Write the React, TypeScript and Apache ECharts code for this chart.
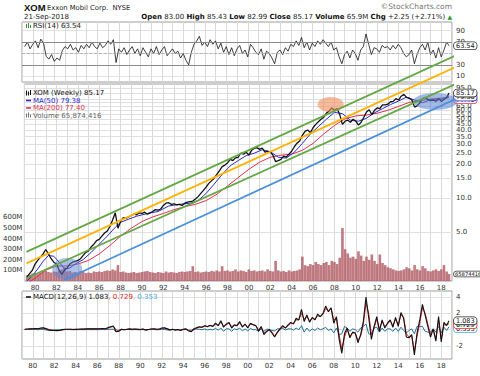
import React, { useEffect, useRef } from 'react';
import * as echarts from 'echarts';

const FONT = '"DejaVu Sans", Verdana, sans-serif';
const FIRST_Q = 1979.25;
const LAST_DATE = 2018.72;

const priceGridValues = [5, 10, 15, 20, 25, 30, 35, 40, 45, 50, 55, 60, 65, 70, 75, 85, 95];
const priceTickLabels = [5, 10, 15, 20, 25, 30, 35, 40, 45, 50, 55, 60, 65, 95];
const volumeTickLabels = [100, 200, 300, 400, 500, 600];
const rsiGridValues = [10, 30, 50, 70, 90];
const rsiTickLabels = [10, 30, 70, 90];
const macdGridValues = [-2, 0, 2, 4];
const macdTickLabels = [-2, 2, 4];

// quarterly closes 1979Q2 .. 2018-09
const priceClose = [
  2.0, 2.15, 2.3,
  2.6, 2.8, 3.0, 3.2,
  3.5, 3.2, 2.9, 2.7,
  2.6, 2.3, 2.1, 2.3,
  2.4, 2.6, 2.7, 2.75,
  2.8, 2.9, 3.1, 3.3,
  3.4, 3.7, 3.9, 4.2,
  4.3, 4.6, 4.9, 5.1,
  5.6, 6.4, 7.4, 5.4,
  6.2, 6.7, 6.6, 6.8,
  7.0, 7.2, 7.1, 7.4,
  7.3, 7.5, 7.2, 7.4,
  7.6, 7.9, 7.8, 8.0,
  8.6, 9.0, 9.1, 8.8,
  8.9, 8.7, 8.8, 8.6,
  9.0, 9.2, 9.3, 9.4,
  9.8, 10.3, 11.0, 11.7,
  12.5, 13.5, 14.2, 15.0,
  16.2, 17.5, 19.0, 19.6,
  20.5, 22.0, 21.5, 22.7,
  23.0, 25.0, 24.5, 25.5,
  24.0, 26.5, 27.5, 28.0,
  27.0, 27.8, 25.5, 26.0,
  25.6, 24.0, 21.0, 21.5,
  22.0, 23.5, 23.1, 24.5,
  26.0, 28.5, 30.7, 32.0,
  36.0, 39.0, 40.1, 38.0,
  42.0, 45.0, 47.4, 50.0,
  52.0, 56.8, 59.0, 63.0,
  60.0, 62.0, 55.0, 45.0,
  48.0, 49.0, 47.0, 50.0,
  48.0, 44.3, 47.0, 52.0,
  58.0, 60.6, 55.0, 60.0,
  63.0, 62.0, 66.9, 67.0,
  68.0, 71.4, 72.0, 76.0,
  74.0, 80.0, 83.0, 78.0,
  76.6, 74.0, 64.0, 66.0,
  70.0, 76.0, 78.0, 74.7,
  73.0, 74.0, 72.0, 76.6,
  72.0, 74.7, 78.0, 85.17,
];

// weekly volume, millions (sampled quarterly)
const volumeM = [
  55, 60, 70,
  75, 65, 80, 90,
  95, 85, 80, 90,
  85, 100, 110, 130,
  90, 95, 80, 85,
  80, 95, 90, 75,
  80, 75, 90, 85,
  90, 85, 95, 100,
  95, 110, 100, 150,
  85, 90, 80, 75,
  80, 85, 75, 80,
  85, 90, 95, 85,
  80, 75, 85, 80,
  75, 90, 80, 85,
  80, 75, 85, 90,
  85, 90, 95, 140,
  85, 90, 80, 85,
  90, 85, 95, 90,
  100, 90, 140, 95,
  100, 90, 95, 110,
  90, 100, 95, 85,
  110, 95, 100, 90,
  95, 100, 90, 110,
  95, 90, 190, 100,
  90, 95, 85, 100,
  90, 95, 100, 110,
  230, 150, 140, 160,
  150, 180, 160, 150,
  170, 180, 150, 190,
  180, 160, 220, 500,
  300, 260, 220, 230,
  210, 280, 240, 190,
  230, 200, 250, 190,
  160, 250, 170, 150,
  130, 120, 110, 100,
  95, 100, 110, 130,
  120, 100, 150, 110,
  100, 140, 120, 95,
  90, 100, 110, 95,
  110, 150, 90, 65.874416,
];

const rsi14 = [
  62, 70, 58,
  66, 72, 60, 75,
  68, 45, 40, 48,
  36, 42, 38, 55,
  62, 58, 66, 56,
  60, 52, 64, 58,
  66, 60, 70, 62,
  58, 68, 60, 64,
  72, 66, 74, 34,
  58, 52, 60, 48,
  56, 62, 50, 58,
  46, 60, 52, 44,
  58, 50, 62, 48,
  56, 62, 46, 52,
  58, 50, 54, 42,
  50, 38, 30, 52,
  66, 72, 80, 64,
  70, 62, 74, 66,
  72, 58, 68, 52,
  62, 48, 60, 46,
  58, 64, 50, 56,
  44, 66, 60, 52,
  48, 58, 40, 54,
  50, 42, 32, 52,
  56, 48, 60, 54,
  66, 62, 72, 64,
  78, 60, 70, 56,
  68, 62, 72, 66,
  74, 68, 62, 70,
  56, 60, 44, 32,
  48, 54, 42, 56,
  50, 38, 56, 62,
  84, 66, 48, 60,
  58, 52, 64, 60,
  62, 56, 64, 58,
  66, 60, 50, 44,
  48, 56, 32, 48,
  60, 66, 56, 70,
  48, 56, 42, 60,
  44, 56, 70, 63.54,
];

const macdLine = [
  0.05, 0.08, 0.1,
  0.12, 0.15, 0.12, 0.2,
  0.22, 0.1, -0.05, -0.08,
  -0.1, -0.12, -0.1, 0.0,
  0.05, 0.05, 0.06, 0.03,
  0.04, 0.05, 0.08, 0.07,
  0.1, 0.12, 0.1, 0.12,
  0.1, 0.12, 0.15, 0.12,
  0.25, 0.35, 0.45, -0.25,
  -0.2, 0.05, 0.0, 0.05,
  0.1, 0.05, 0.08, 0.05,
  0.02, 0.08, -0.05, 0.02,
  0.08, 0.1, 0.05, 0.06,
  0.2, 0.22, 0.1, -0.05,
  0.05, -0.05, 0.02, -0.1,
  0.05, 0.1, -0.15, -0.25,
  0.1, 0.25, 0.35, 0.3,
  0.5, 0.35, 0.55, 0.4,
  0.8, 0.5, 1.1, 0.3,
  0.7, 0.9, 0.2, 0.6,
  0.5, 1.0, 0.3, 0.7,
  0.2, 0.8, 0.6, 0.5,
  -0.2, 0.4, -0.6, -0.2,
  0.0, -0.4, -0.9, -0.3,
  0.1, 0.5, 0.2, 0.6,
  0.9, 0.7, 1.4, 1.2,
  2.5, 1.0, 1.8, 0.9,
  1.5, 1.2, 1.9, 1.6,
  2.0, 2.9, 2.2, 2.7,
  0.8, 1.6, -1.2, -2.9,
  -0.5, 0.2, -1.0, -0.3,
  -0.4, -1.6, -0.6, 1.0,
  4.0, 1.5, -1.2, 0.4,
  1.6, -0.2, 1.2, 0.2,
  0.8, 1.2, 0.3, 1.5,
  0.4, 2.1, 1.4, -0.9,
  -1.0, -0.6, -3.1, -0.4,
  1.2, 3.1, 1.8, 0.4,
  -0.9, 0.1, -1.4, 1.6,
  -1.5, 0.9, 0.5, 1.083,
];

const macdSignal = [
  0.04, 0.06, 0.08,
  0.1, 0.12, 0.13, 0.16,
  0.19, 0.14, 0.03, -0.04,
  -0.08, -0.1, -0.1, -0.04,
  0.02, 0.04, 0.05, 0.04,
  0.04, 0.05, 0.07, 0.07,
  0.09, 0.11, 0.1, 0.11,
  0.1, 0.11, 0.13, 0.12,
  0.2, 0.3, 0.4, 0.0,
  -0.15, 0.0, 0.0, 0.03,
  0.08, 0.06, 0.07, 0.06,
  0.03, 0.06, 0.0, 0.01,
  0.06, 0.08, 0.06, 0.06,
  0.15, 0.2, 0.13, 0.02,
  0.03, -0.02, 0.0, -0.06,
  0.02, 0.07, -0.08, -0.2,
  0.02, 0.18, 0.3, 0.3,
  0.42, 0.38, 0.5, 0.43,
  0.65, 0.55, 0.9, 0.5,
  0.6, 0.8, 0.4, 0.5,
  0.5, 0.8, 0.45, 0.6,
  0.35, 0.65, 0.6, 0.5,
  0.0, 0.3, -0.4, -0.25,
  -0.05, -0.3, -0.75, -0.4,
  0.0, 0.35, 0.25, 0.5,
  0.8, 0.75, 1.2, 1.2,
  2.0, 1.3, 1.6, 1.1,
  1.4, 1.3, 1.7, 1.6,
  1.9, 2.6, 2.3, 2.6,
  1.2, 1.4, -0.6, -2.4,
  -0.9, 0.0, -0.8, -0.4,
  -0.4, -1.3, -0.8, 0.6,
  3.3, 2.0, -0.6, 0.2,
  1.3, 0.1, 1.0, 0.4,
  0.7, 1.1, 0.5, 1.3,
  0.6, 1.8, 1.5, -0.5,
  -0.9, -0.7, -2.6, -0.8,
  0.8, 2.7, 2.0, 0.7,
  -0.6, 0.0, -1.1, 1.2,
  -1.1, 0.6, 0.6, 0.729,
];

const macdHist = [
  0.01, 0.02, 0.02,
  0.02, 0.03, -0.01, 0.04,
  0.03, -0.04, -0.08, -0.04,
  -0.02, -0.02, 0.0, 0.04,
  0.03, 0.01, 0.01, -0.01,
  0.0, 0.0, 0.01, 0.0,
  0.01, 0.01, 0.0, 0.01,
  0.0, 0.01, 0.02, 0.0,
  0.05, 0.05, 0.05, -0.25,
  -0.05, 0.05, 0.0, 0.02,
  0.02, -0.01, 0.01, -0.01,
  -0.01, 0.02, -0.05, 0.01,
  0.02, 0.02, -0.01, 0.0,
  0.05, 0.02, -0.03, -0.07,
  0.02, -0.03, 0.02, -0.04,
  0.03, 0.03, -0.07, -0.05,
  0.08, 0.07, 0.05, 0.0,
  0.08, -0.03, 0.05, -0.03,
  0.15, -0.05, 0.2, -0.2,
  0.1, 0.1, -0.2, 0.1,
  0.0, 0.2, -0.15, 0.1,
  -0.15, 0.15, 0.0, 0.0,
  -0.2, 0.1, -0.2, 0.05,
  0.05, -0.1, -0.15, 0.1,
  0.1, 0.15, -0.05, 0.1,
  0.1, -0.05, 0.2, 0.0,
  0.5, -0.3, 0.2, -0.2,
  0.1, -0.1, 0.2, 0.0,
  0.1, 0.3, -0.1, 0.1,
  -0.4, 0.2, -0.6, -0.5,
  0.4, 0.2, -0.2, 0.1,
  0.0, -0.3, 0.2, 0.4,
  0.7, -0.5, -0.6, 0.2,
  0.3, -0.3, 0.2, -0.2,
  0.1, 0.1, -0.2, 0.2,
  -0.2, 0.3, -0.1, -0.4,
  -0.1, 0.1, -0.5, 0.4,
  0.4, 0.4, -0.2, -0.3,
  -0.3, 0.1, -0.3, 0.4,
  -0.4, 0.3, -0.1, 0.353,
];

const ma50Years = [
  1979.25, 1979.75, 1980.25, 1980.75, 1981.25, 1981.75, 1982.25, 1982.75, 1983.25, 1983.75,
  1984.5, 1985.25, 1986.0, 1986.75, 1987.5, 1988.0, 1988.75, 1989.5, 1990.5, 1991.5,
  1992.5, 1993.5, 1994.5, 1995.25, 1996.0, 1996.75, 1997.5, 1998.25, 1999.0, 1999.75,
  2000.5, 2001.25, 2002.0, 2002.75, 2003.5, 2004.25, 2005.0, 2005.75, 2006.5, 2007.25,
  2008.0, 2008.75, 2009.5, 2010.25, 2011.0, 2011.75, 2012.5, 2013.25, 2014.0, 2014.75,
  2015.5, 2016.25, 2017.0, 2017.75, 2018.72,
];
const ma50Values = [
  1.85, 2.05, 2.35, 2.75, 3.1, 3.05, 2.7, 2.35, 2.4, 2.6,
  2.85, 3.3, 3.9, 4.6, 5.5, 6.1, 6.5, 6.9, 7.3, 7.6,
  8.5, 8.8, 9.0, 9.5, 11.0, 13.3, 16.2, 19.3, 21.5, 23.8,
  25.0, 26.8, 25.8, 23.0, 22.6, 25.5, 30.5, 37.0, 43.0, 50.0,
  57.5, 56.0, 49.0, 48.0, 51.0, 57.0, 62.0, 67.5, 72.5, 78.5,
  74.0, 70.0, 74.5, 74.0, 79.38,
];

const ma200Years = [
  1979.25, 1980, 1981, 1982, 1983, 1984, 1985, 1986, 1987, 1988,
  1989, 1990, 1991, 1992, 1993, 1994, 1995, 1996, 1997, 1998,
  1999, 2000, 2001, 2002, 2003, 2004, 2005, 2006, 2007, 2008,
  2009, 2010, 2011, 2012, 2013, 2014, 2015, 2016, 2017, 2018, 2018.72,
];
const ma200Values = [
  1.75, 1.95, 2.3, 2.5, 2.5, 2.6, 2.8, 3.2, 3.8, 4.6,
  5.4, 6.2, 6.8, 7.3, 7.9, 8.4, 8.8, 9.5, 10.8, 12.8,
  15.2, 18.0, 20.8, 23.0, 24.0, 24.5, 26.5, 30.5, 37.0, 44.0,
  50.5, 53.5, 54.5, 56.5, 60.0, 65.0, 70.5, 73.0, 75.5, 77.0, 77.4,
];

// trend channel end points: [year, price]
const trendUpperGreen = [[1979.19, 3.33], [2021.6, 230]];
const trendOrange = [[1979.19, 2.64], [2021.6, 182]];
const trendLowerGreen = [[1979.19, 1.945], [2021.6, 128.5]];
const trendBlue = [[1982.72, 1.88], [2021.6, 94.7]];

// highlighted zones (centre year, centre price)
const zone2008Top = [2007.65, 67.6];
const zone2017 = [2017.42, 71.8];
const zone1982 = [1983.0, 2.35];

const L = (p: number) => Math.log10(p);
const qx = (i: number, n: number) => (i === n - 1 ? LAST_DATE : FIRST_Q + 0.25 * i);

export default function App() {
  const ref = useRef<HTMLDivElement>(null);
  useEffect(() => {
    document.body.style.margin = '0';
    if (!ref.current) return;
    const chart = echarts.init(ref.current, undefined, { renderer: 'svg' });

    const axisLabelBase = { fontSize: 7, color: '#333', fontFamily: FONT };
    const xAxis = (gridIndex: number, show: boolean) => ({
      type: 'value',
      gridIndex,
      min: 1979,
      max: 2019,
      interval: 1,
      axisLine: { show: false },
      axisTick: { show: false },
      splitLine: { show: true, lineStyle: { color: '#d9d9d9', width: 1 } },
      axisLabel: {
        ...axisLabelBase,
        show,
        margin: 3,
        formatter: (v: number) => (v % 2 === 0 ? String(v % 100).padStart(2, '0') : ''),
      },
    });

    const lineSeries = (name: string, data: number[][], xi: number, yi: number, color: string, width: number, extra: any = {}) => ({
      name,
      type: 'line',
      xAxisIndex: xi,
      yAxisIndex: yi,
      data,
      symbol: 'none',
      lineStyle: { color, width },
      silent: true,
      ...extra,
    });

    const boxLabel = (text: string, border: string, offsetY = 0) => ({
      show: true,
      formatter: text,
      distance: 5,
      offset: [0, offsetY],
      fontSize: 6.5,
      fontFamily: FONT,
      color: '#111',
      backgroundColor: '#fff',
      borderColor: border,
      borderWidth: 0.8,
      borderRadius: 3,
      padding: [0, 2, 0, 2],
    });

    const priceData = priceClose.map((p, i) => [qx(i, priceClose.length), L(p)]);
    const trend = (pts: number[][]) => pts.map(([y, p]) => [y, L(p)]);

    const series: any[] = [
      // 0 RSI
      lineSeries('RSI', rsi14.map((v, i) => [qx(i, rsi14.length), v]), 0, 0, '#111', 0.8, {
        endLabel: boxLabel('63.54', '#333'),
        markLine: {
          silent: true,
          symbol: 'none',
          label: { show: false },
          data: [
            { yAxis: 70, lineStyle: { color: '#8a8a8a', width: 1, type: 'solid' } },
            { yAxis: 30, lineStyle: { color: '#8a8a8a', width: 1, type: 'solid' } },
            { yAxis: 50, lineStyle: { color: '#aaa', width: 0.8, type: 'dashed' } },
          ],
        },
      }),
      // 1 volume
      {
        name: 'Volume',
        type: 'bar',
        xAxisIndex: 1,
        yAxisIndex: 2,
        barWidth: 2.6,
        silent: true,
        itemStyle: { color: 'rgba(176,88,96,0.8)' },
        data: volumeM.map((v, i) => [qx(i, volumeM.length), v]),
        z: 1,
      },
      // 2 MA200
      lineSeries('MA200', ma200Years.map((y, i) => [y, L(ma200Values[i])]), 1, 1, '#e0304c', 1, {
        endLabel: boxLabel('77.40', '#e0304c', 2),
        z: 3,
      }),
      // 3 MA50
      lineSeries('MA50', ma50Years.map((y, i) => [y, L(ma50Values[i])]), 1, 1, '#2a2ad0', 1, {
        endLabel: boxLabel('79.38', '#2a2ad0', 0.5),
        z: 3,
      }),
      // 4 price
      lineSeries('XOM', priceData, 1, 1, '#111', 1.3, {
        endLabel: boxLabel('85.17', '#222'),
        z: 4,
      }),
      // trend lines
      lineSeries('upper', trend(trendUpperGreen), 1, 1, '#63a844', 1.8, { clip: false, z: 6 }),
      lineSeries('mid', trend(trendOrange), 1, 1, '#ffb300', 1.8, { clip: false, z: 6 }),
      lineSeries('lower', trend(trendLowerGreen), 1, 1, '#63a844', 1.8, { clip: false, z: 6 }),
      lineSeries('support', trend(trendBlue), 1, 1, '#4a90d8', 1.8, { clip: false, z: 6 }),
      // MACD
      lineSeries('hist', macdHist.map((v, i) => [qx(i, macdHist.length), v]), 2, 3, '#1f6f9c', 1, {
        endLabel: boxLabel('0.353', '#4aa8dc', 2),
      }),
      lineSeries('signal', macdSignal.map((v, i) => [qx(i, macdSignal.length), v]), 2, 3, '#e02424', 1, {
        endLabel: boxLabel('0.729', '#e02424', 1),
      }),
      lineSeries('macd', macdLine.map((v, i) => [qx(i, macdLine.length), v]), 2, 3, '#111', 1.1, {
        endLabel: boxLabel('1.083', '#222'),
      }),
    ];

    const gridBase = { left: 22, right: 28, show: true, borderColor: '#9c9c9c', borderWidth: 1 };

    chart.setOption({
      animation: false,
      grid: [
        { ...gridBase, top: 22, height: 60 },
        { ...gridBase, top: 84, height: 197 },
        { ...gridBase, top: 291, height: 68 },
      ],
      xAxis: [xAxis(0, false), xAxis(1, true), xAxis(2, true)],
      yAxis: [
        {
          type: 'value', gridIndex: 0, position: 'right', min: 0, max: 105,
          axisLine: { show: false },
          axisTick: { show: false, customValues: rsiGridValues },
          axisLabel: { ...axisLabelBase, margin: 4, customValues: rsiTickLabels },
          splitLine: { show: true, lineStyle: { color: '#e2e2e2' } },
        },
        {
          type: 'value', gridIndex: 1, position: 'right', min: L(1.84), max: L(102.6),
          axisLine: { show: false },
          axisTick: { show: false, customValues: priceGridValues.map(L) },
          axisLabel: {
            ...axisLabelBase, margin: 4,
            customValues: priceTickLabels.map(L),
            formatter: (v: number) => Math.pow(10, v).toFixed(1),
          },
          splitLine: { show: true, lineStyle: { color: '#e0e0e0' } },
        },
        {
          type: 'value', gridIndex: 1, position: 'left', min: 0, max: 1860,
          axisLine: { show: false },
          axisTick: { show: false, customValues: volumeTickLabels },
          axisLabel: { ...axisLabelBase, margin: 2, customValues: volumeTickLabels, formatter: (v: number) => v + 'M' },
          splitLine: { show: false },
        },
        {
          type: 'value', gridIndex: 2, position: 'right', min: -3.6, max: 4.75,
          axisLine: { show: false },
          axisTick: { show: false, customValues: macdGridValues },
          axisLabel: { ...axisLabelBase, margin: 4, customValues: macdTickLabels },
          splitLine: { show: true, lineStyle: { color: '#e0e0e0' } },
        },
      ],
      series,
    });

    const toPx = (pt: number[]) => chart.convertToPixel({ seriesIndex: 4 }, [pt[0], L(pt[1])]) as number[];
    const c1 = toPx(zone2008Top);
    const c2 = toPx(zone2017);
    const c3 = toPx(zone1982);
    const volPx = chart.convertToPixel({ seriesIndex: 1 }, [LAST_DATE, volumeM[volumeM.length - 1]]) as number[];

    const txt = (x: number, y: number, text: string, font: string, fill: string, extra: any = {}) => ({
      type: 'text', x, y, silent: true, z: 20,
      style: { text, font, fill, verticalAlign: 'middle', align: 'left', ...extra },
    });
    const bar = (x: number, y: number, w: number, h: number, fill: string) => ({
      type: 'rect', silent: true, z: 20, shape: { x, y, width: w, height: h }, style: { fill },
    });

    chart.setOption({
      graphic: [
        { type: 'ellipse', silent: true, z: 5, shape: { cx: c1[0], cy: c1[1], rx: 13, ry: 7.5 }, style: { fill: 'rgba(240,140,90,0.6)' } },
        { type: 'ellipse', silent: true, z: 5, shape: { cx: c2[0], cy: c2[1], rx: 22, ry: 8.5 }, style: { fill: 'rgba(90,130,210,0.55)' } },
        { type: 'ellipse', silent: true, z: 5, shape: { cx: c3[0], cy: c3[1], rx: 15, ry: 11 }, style: { fill: 'rgba(90,130,210,0.5)' } },
        txt(24, 7, 'XOM', `bold 9.5px "Liberation Sans", Arial, sans-serif`, '#111'),
        txt(47, 7.5, 'Exxon Mobil Corp.  NYSE', `6.8px ${FONT}`, '#222'),
        txt(24, 16.5, '21-Sep-2018', `7px ${FONT}`, '#222'),
        txt(452, 6, '\u00A9StockCharts.com', `7.5px ${FONT}`, '#777', { align: 'right' }),
        {
          type: 'text', x: 452, y: 16.5, silent: true, z: 20,
          style: {
            text: '{b|Open} 83.00 {b|High} 85.43 {b|Low} 82.99 {b|Close} 85.17 {b|Volume} 65.9M {b|Chg} +2.25 (+2.71%) {g|\u25B2}',
            font: `7px ${FONT}`,
            fill: '#222',
            align: 'right',
            verticalAlign: 'middle',
            rich: {
              b: { fontWeight: 'bold', fontSize: 7, fontFamily: FONT, fill: '#111' },
              g: { fontSize: 6, fontFamily: FONT, fill: '#2a9a2a' },
            },
          },
        },
        // RSI legend
        bar(26, 24, 1, 4, '#3a8a3a'), bar(28, 23, 1, 5, '#3a8a3a'), bar(30, 25, 1, 3, '#3a8a3a'),
        txt(33, 26, 'RSI(14) 63.54', `7px ${FONT}`, '#222'),
        // price legend
        bar(26, 90.5, 1, 5, '#111'), bar(28, 91.5, 1, 4, '#111'), bar(30, 90, 1, 5, '#111'),
        txt(33, 93, 'XOM (Weekly) 85.17', `7px ${FONT}`, '#111'),
        bar(26, 99.7, 5, 1.6, '#2a2ad0'),
        txt(33, 100.5, 'MA(50) 79.38', `7px ${FONT}`, '#2a2ad0'),
        bar(26, 107.2, 5, 1.6, '#e0304c'),
        txt(33, 108, 'MA(200) 77.40', `7px ${FONT}`, '#e0304c'),
        bar(26, 113.5, 1, 4, '#777'), bar(28, 112.5, 1, 5, '#777'), bar(30, 114.5, 1, 3, '#777'),
        txt(33, 115.5, 'Volume 65,874,416', `7px ${FONT}`, '#666'),
        // volume last value box
        {
          type: 'text', x: volPx[0] + 5, y: volPx[1], silent: true, z: 20,
          style: {
            text: '65874416', font: `5.2px ${FONT}`, fill: '#111', verticalAlign: 'middle',
            backgroundColor: '#fff', borderColor: '#333', borderWidth: 0.8, borderRadius: 3, padding: [0, 1],
          },
        },
        // MACD legend
        bar(26, 296.2, 5, 1.6, '#111'),
        {
          type: 'text', x: 33, y: 297, silent: true, z: 20,
          style: {
            text: 'MACD(12,26,9) 1.083{r|, 0.729}{c|, 0.353}',
            font: `7px ${FONT}`, fill: '#111', verticalAlign: 'middle',
            rich: {
              r: { fontSize: 7, fontFamily: FONT, fill: '#e02424' },
              c: { fontSize: 7, fontFamily: FONT, fill: '#4aa8dc' },
            },
          },
        },
      ],
    });

    return () => chart.dispose();
  }, []);
  return <div ref={ref} style={{ width: 480, height: 376 }} />;
}
